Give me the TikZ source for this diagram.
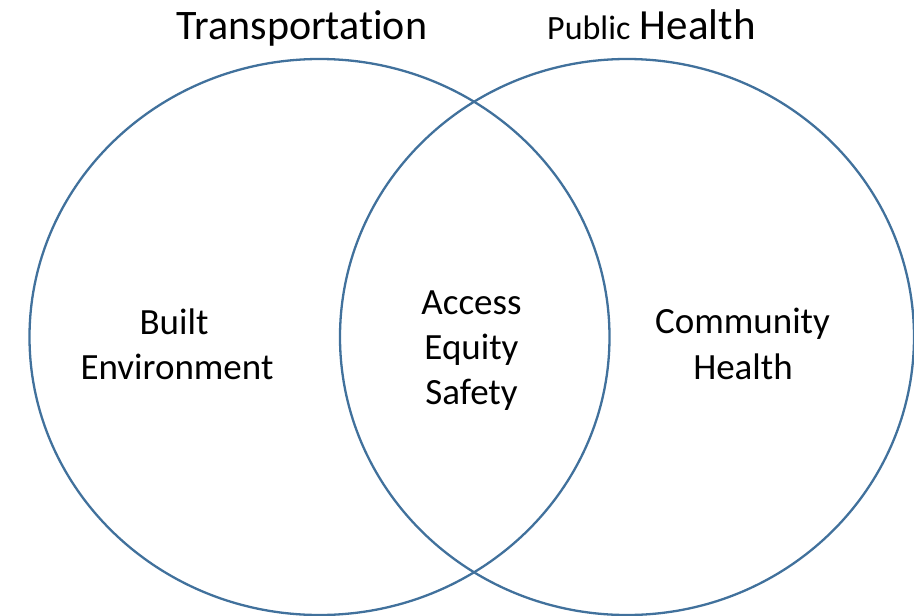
\documentclass[tikz,border=0pt]{standalone}
\usepackage{fontspec}
\setmainfont{Carlito}[Ligatures={NoCommon}]
\definecolor{ringblue}{HTML}{41719C}
\begin{document}
\begin{tikzpicture}[x=1pt,y=-1pt,
  ring/.style={draw=ringblue,line width=2.3pt},
  title/.style={anchor=base,inner sep=0pt,font=\fontsize{42}{50}\selectfont},
  label/.style={anchor=base,inner sep=0pt,font=\fontsize{37}{45}\selectfont}]
\useasboundingbox (0,0) rectangle (914,616);
% the two overlapping rings
\draw[ring] (319.5,337) ellipse [x radius=290, y radius=278];
\draw[ring] (627,337) ellipse [x radius=287, y radius=278];
% headings
\node[title] (transport) at (302,39) {Transportation};
\node[title,anchor=base west] (health) at (547,39) {{\fontsize{34}{40}\selectfont Public} {\fontsize{43}{50}\selectfont Health}};
% left region
\node[label] (built) at (174,334) {Built};
\node[label] (env) at (177,379) {Environment};
% overlap
\node[label] (access) at (471.5,314) {Access};
\node[label] (equity) at (471.5,359) {Equity};
\node[label] (safety) at (471.5,404) {Safety};
% right region
\node[label] (community) at (742.5,333) {Community};
\node[label] (chealth) at (743,379) {Health};
\end{tikzpicture}
\end{document}
